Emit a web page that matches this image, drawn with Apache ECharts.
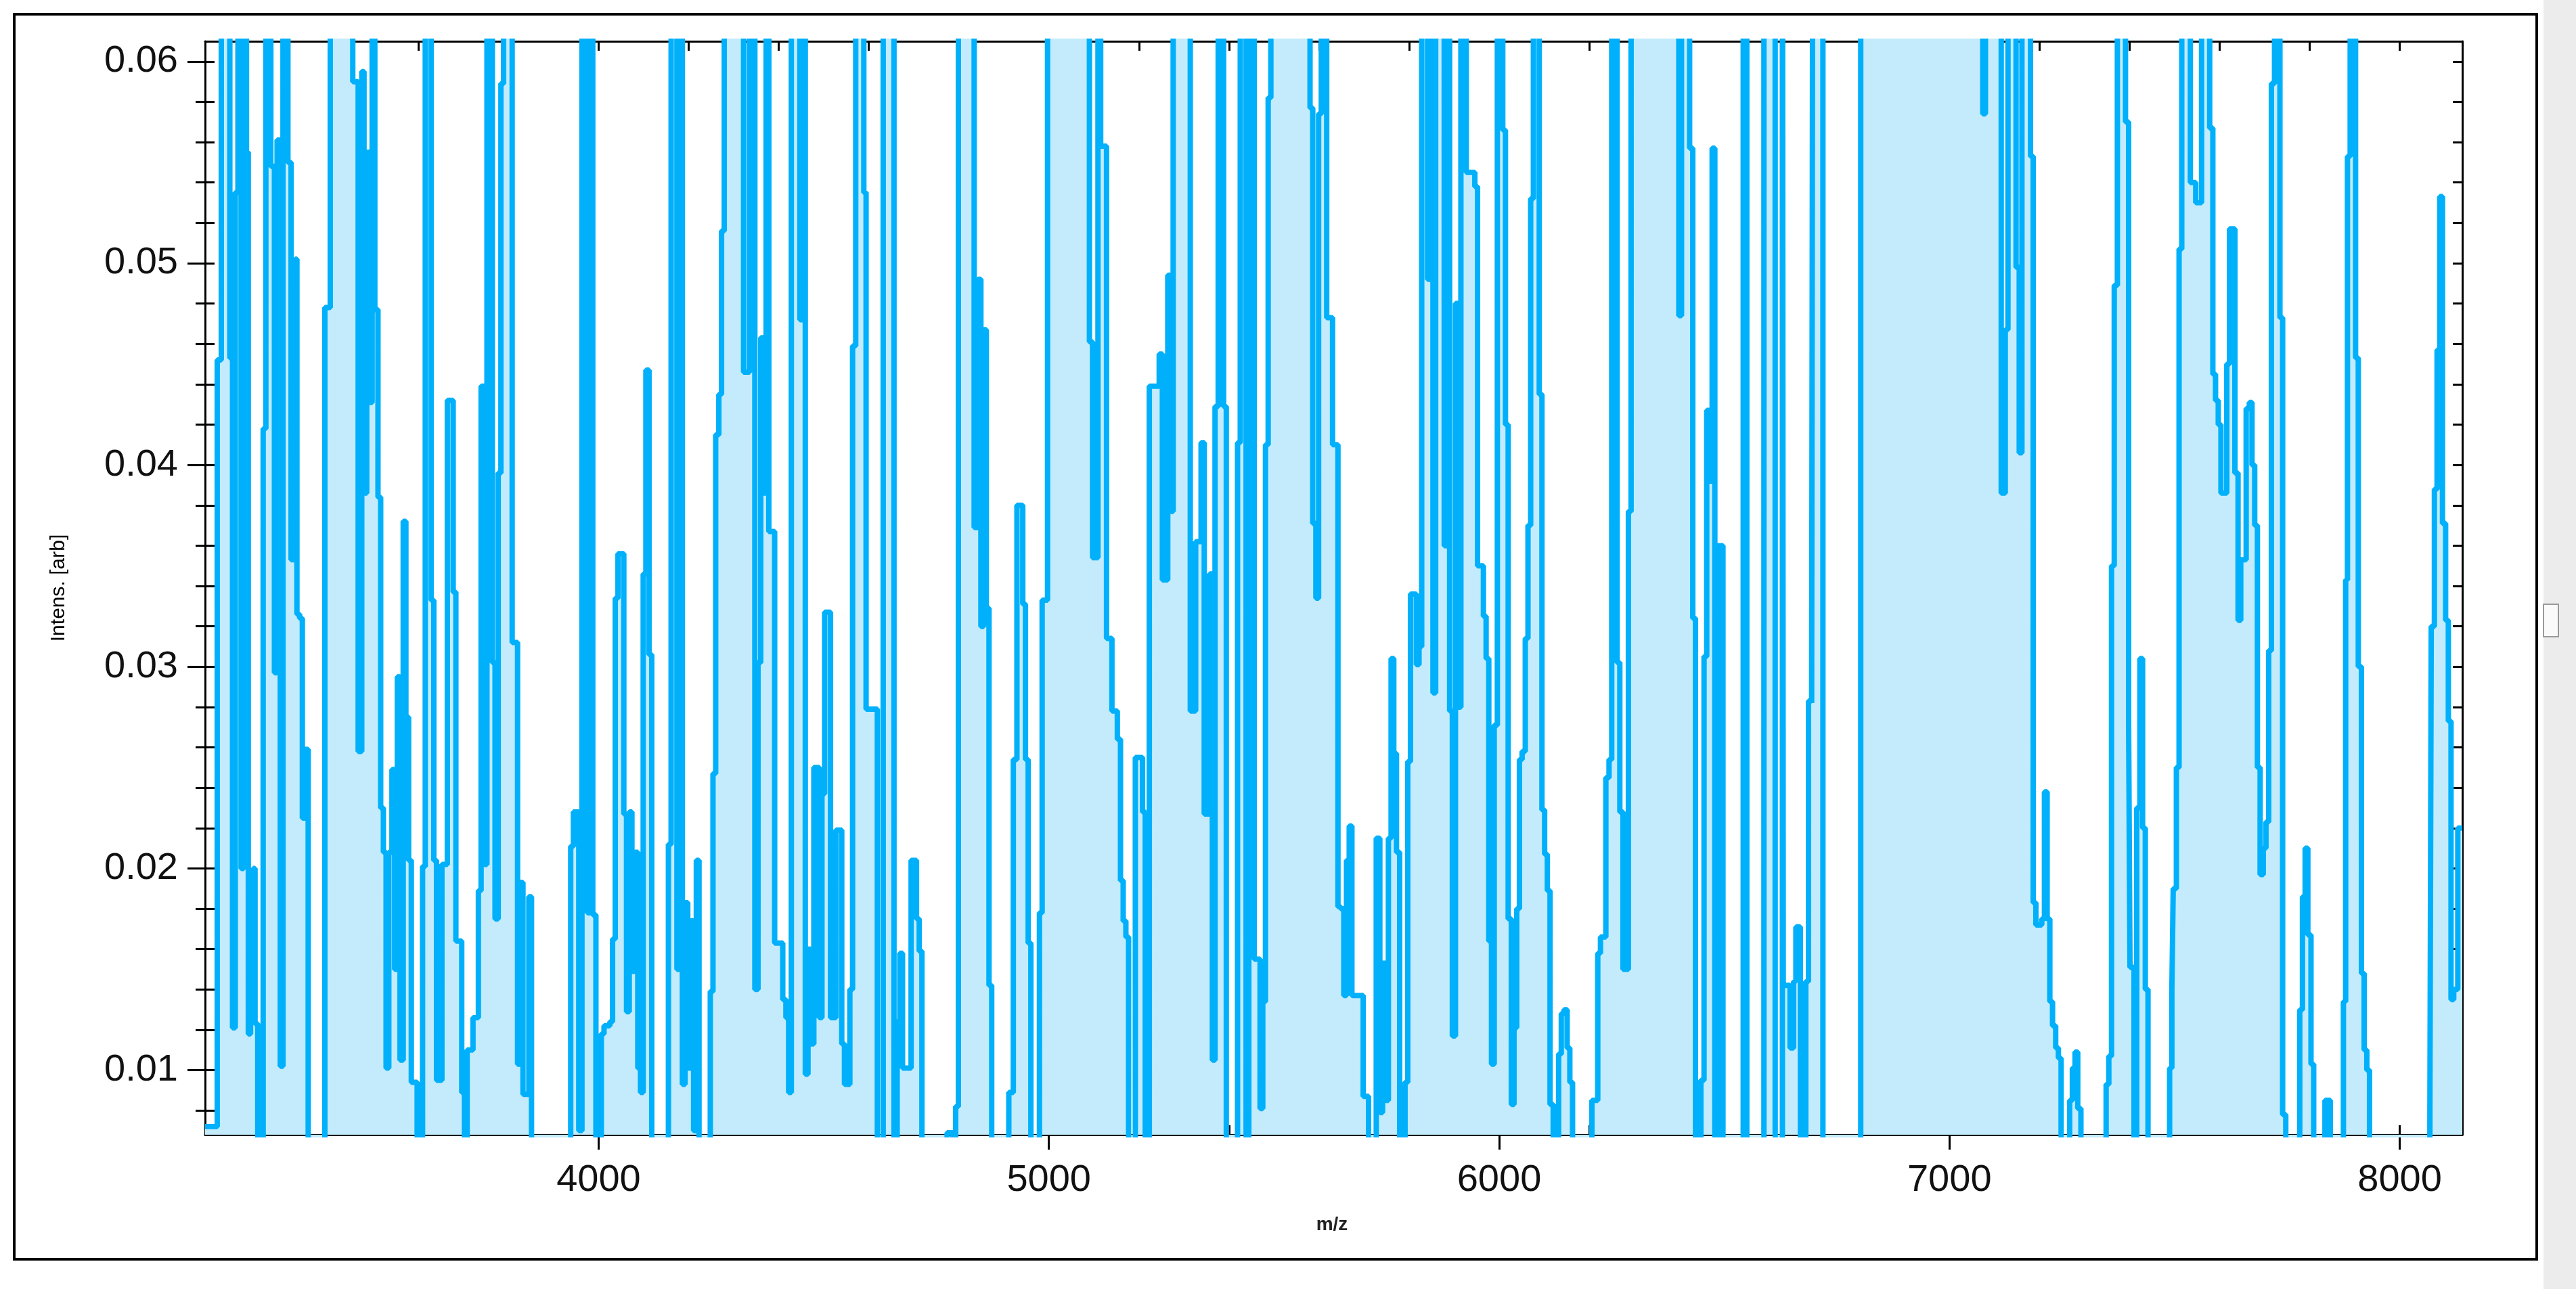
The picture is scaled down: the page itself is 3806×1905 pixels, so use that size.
<!DOCTYPE html>
<html>
<head>
<meta charset="utf-8">
<script src="https://cdn.jsdelivr.net/npm/echarts@6/dist/echarts.min.js"></script>
<style>
html, body { margin: 0; padding: 0; background: #fff; }
#chart { width: 3806px; height: 1905px; }
</style>
</head>
<body>
<div id="chart"></div>
<script>
// m/z positions where the stepped trace changes level, with the level it steps to
var mz = [
3126,3153,3162,3181,3187,3193,3199,3206,3212,3218,3222,3227,3233,3237,3243,3255,3261,3272,3280,3286,
3293,3299,3310,3317,3326,3330,3336,3342,3348,3355,3392,3404,3454,3466,3474,3479,3485,3491,3497,3503,
3510,3516,3522,3528,3534,3541,3547,3553,3559,3566,3572,3578,3584,3597,3609,3615,3628,3634,3640,3652,
3664,3677,3683,3696,3702,3708,3721,3733,3739,3746,3752,3764,3770,3777,3783,3789,3808,3820,3826,3832,
3845,3851,3938,3944,3956,3963,3975,3981,3987,3994,4006,4012,4025,4031,4037,4043,4056,4062,4068,4074,
4081,4087,4093,4099,4105,4112,4118,4155,4161,4174,4180,4186,4192,4198,4205,4211,4217,4223,4248,4254,
4260,4267,4273,4279,4322,4335,4347,4354,4360,4366,4372,4378,4391,4409,4416,4422,4428,4447,4453,4459,
4465,4471,4478,4490,4496,4502,4515,4527,4540,4546,4558,4564,4571,4589,4594,4619,4632,4656,4663,4669,
4675,4687,4694,4706,4712,4718,4774,4787,4793,4799,4834,4842,4849,4855,4861,4867,4873,4911,4921,4929,
4942,4948,4954,4960,4979,4985,4997,5090,5097,5109,5115,5128,5140,5152,5159,5165,5171,5177,5192,5208,
5214,5223,5245,5252,5264,5270,5276,5314,5326,5338,5345,5357,5363,5369,5376,5388,5394,5419,5425,5438,
5444,5456,5469,5475,5481,5487,5493,5580,5586,5593,5599,5605,5617,5630,5642,5648,5655,5661,5667,5673,
5686,5698,5710,5727,5735,5741,5748,5754,5760,5766,5772,5779,5791,5797,5803,5816,5822,5828,5841,5847,
5853,5859,5878,5884,5890,5896,5903,5909,5915,5927,5940,5946,5952,5965,5971,5977,5983,5989,5996,6008,
6014,6020,6027,6033,6039,6045,6051,6058,6064,6070,6076,6089,6095,6101,6107,6113,6120,6132,6138,6144,
6151,6157,6163,6206,6219,6225,6237,6244,6250,6262,6268,6275,6287,6293,6399,6405,6423,6430,6436,6448,
6455,6461,6467,6473,6479,6485,6497,6542,6550,6588,6613,6629,6631,6641,6646,6654,6659,6669,6681,6687,
6694,6697,6719,6803,7074,7080,7115,7124,7130,7148,7155,7161,7180,7186,7192,7205,7211,7217,7223,7229,
7236,7242,7248,7267,7273,7279,7285,7292,7348,7354,7360,7366,7373,7391,7398,7401,7410,7416,7423,7429,
7435,7441,7489,7494,7497,7504,7510,7516,7535,7547,7560,7578,7585,7591,7597,7603,7616,7622,7634,7641,
7647,7659,7666,7672,7678,7684,7690,7697,7703,7709,7715,7722,7734,7740,7747,7778,7784,7790,7796,7803,
7809,7834,7846,7875,7880,7884,7890,7902,7908,7915,7921,7927,7933,8067,8070,8077,8083,8089,8095,8102,
8108,8114,8120,8129,8139
];
var intens = [
0.0072,0.0452,0.08,0.0453,0.0121,0.0535,0.08,0.0200,0.08,0.0555,0.0118,0.0150,0.0200,0.0123,0.006,0.0418,0.08,0.0548,0.0297,0.0561,
0.0102,0.08,0.0550,0.0353,0.0502,0.0326,0.0324,0.0225,0.0259,0.006,0.0478,0.08,0.0590,0.0258,0.0595,0.0386,0.0555,0.0431,0.08,0.0477,
0.0384,0.0230,0.0208,0.0101,0.0208,0.0249,0.0150,0.0295,0.0105,0.0372,0.0275,0.0204,0.0094,0.006,0.0201,0.08,0.0333,0.0204,0.0095,0.0202,
0.0432,0.0337,0.0164,0.0089,0.006,0.0110,0.0126,0.0189,0.0439,0.0202,0.08,0.0302,0.0175,0.0396,0.0589,0.08,0.0312,0.0103,0.0193,0.0088,
0.0186,0.006,0.0211,0.0228,0.0070,0.08,0.0178,0.08,0.0177,0.006,0.0118,0.0122,0.0124,0.0165,0.0334,0.0356,0.0227,0.0129,0.0228,0.0149,
0.0208,0.0101,0.0089,0.0346,0.0447,0.0306,0.006,0.0212,0.08,0.0150,0.08,0.0093,0.0183,0.0101,0.0174,0.0070,0.0204,0.006,0.0139,0.0247,
0.0415,0.0435,0.0516,0.08,0.0446,0.08,0.0140,0.0302,0.0463,0.0386,0.08,0.0367,0.0163,0.0135,0.0126,0.0089,0.08,0.0472,0.08,0.0098,
0.0160,0.0113,0.0250,0.0126,0.0237,0.0327,0.0126,0.0219,0.0113,0.0093,0.0140,0.0459,0.08,0.0535,0.0279,0.006,0.08,0.006,0.0124,0.0158,
0.0101,0.0101,0.0204,0.0175,0.0159,0.006,0.0069,0.006,0.0082,0.08,0.0369,0.0492,0.0320,0.0467,0.0329,0.0142,0.006,0.0089,0.0254,0.0380,
0.0331,0.0254,0.0163,0.006,0.0178,0.0333,0.08,0.0461,0.0354,0.08,0.0558,0.0314,0.0278,0.0264,0.0194,0.0174,0.0166,0.006,0.0255,0.0228,
0.006,0.0439,0.0455,0.0343,0.0494,0.0377,0.08,0.0278,0.0362,0.0411,0.0227,0.0346,0.0105,0.0429,0.08,0.0429,0.006,0.0411,0.08,0.006,
0.08,0.0155,0.0081,0.0134,0.0410,0.0582,0.08,0.0577,0.0371,0.0334,0.0574,0.08,0.0473,0.0410,0.0181,0.0180,0.0137,0.0204,0.0221,0.0137,
0.0137,0.0087,0.006,0.0215,0.0079,0.0153,0.0085,0.0215,0.0304,0.0257,0.0208,0.006,0.0094,0.0253,0.0336,0.0301,0.0310,0.08,0.0492,0.08,
0.0287,0.08,0.0360,0.08,0.0278,0.0117,0.0480,0.0280,0.08,0.0545,0.0545,0.0538,0.0350,0.0325,0.0304,0.0164,0.0103,0.0271,0.08,0.0566,
0.0420,0.0175,0.0083,0.0121,0.0180,0.0254,0.0258,0.0314,0.0370,0.0532,0.08,0.0435,0.0229,0.0207,0.0189,0.0083,0.006,0.0108,0.0128,0.0130,
0.0111,0.0094,0.006,0.0085,0.0158,0.0166,0.0245,0.0254,0.08,0.0302,0.0228,0.0150,0.0377,0.08,0.0474,0.08,0.0557,0.0324,0.006,0.0095,
0.0305,0.0427,0.0392,0.0557,0.006,0.0360,0.006,0.08,0.006,0.08,0.006,0.08,0.0142,0.0142,0.0111,0.0144,0.0171,0.006,0.0144,0.0283,
0.0282,0.08,0.006,0.08,0.0574,0.08,0.0386,0.0467,0.08,0.0498,0.0406,0.08,0.0553,0.0183,0.0172,0.0175,0.0238,0.0175,0.0134,0.0122,
0.0111,0.0106,0.006,0.0085,0.0101,0.0109,0.0081,0.006,0.0093,0.0107,0.0350,0.0489,0.08,0.0570,0.0270,0.0151,0.006,0.0230,0.0304,0.0220,
0.0140,0.006,0.0101,0.0140,0.0190,0.0250,0.0507,0.08,0.0540,0.0530,0.08,0.0567,0.0445,0.0432,0.0420,0.0386,0.0450,0.0517,0.0396,0.0323,
0.0353,0.0428,0.0431,0.0400,0.0370,0.0250,0.0197,0.0210,0.0223,0.0308,0.0589,0.08,0.0473,0.0078,0.006,0.0130,0.0186,0.0210,0.0167,0.0103,
0.006,0.0085,0.006,0.0134,0.0343,0.0553,0.08,0.0453,0.0300,0.0148,0.0110,0.0100,0.006,0.0077,0.0320,0.0388,0.0457,0.0533,0.0371,0.0323,
0.0273,0.0135,0.0140,0.0220,0.0220
];
var xLabels = [4000, 5000, 6000, 7000, 8000];
var xMinor = [3200,3400,3600,3800,4000,4200,4400,4600,4800,5000,5200,5400,5600,5800,6000,6200,6400,6600,6800,7000,7200,7400,7600,7800,8000];
var yLabels = [0.01, 0.02, 0.03, 0.04, 0.05, 0.06];
var yMinor = [0.008,0.010,0.012,0.014,0.016,0.018,0.020,0.022,0.024,0.026,0.028,0.030,0.032,0.034,0.036,0.038,0.040,0.042,0.044,0.046,0.048,0.050,0.052,0.054,0.056,0.058,0.060];

var X_MIN = 3126, X_MAX = 8139, Y_MIN = 0.0068, Y_MAX = 0.061;
var points = mz.map(function (m, i) { return [m, intens[i]]; });

var labelFont = {fontFamily: 'Liberation Sans', fontSize: 56, color: '#111'};
var line = {show: true, lineStyle: {color: '#000', width: 3}};

function xAx(pos, ticks, len, inside, labels, showLine) {
    return {
        type: 'value', position: pos, min: X_MIN, max: X_MAX,
        axisLine: showLine ? line : {show: false},
        splitLine: {show: false},
        axisTick: {show: true, customValues: ticks, length: len, inside: inside, lineStyle: {color: '#000', width: 3}},
        axisLabel: labels ? Object.assign({show: true, customValues: labels, margin: 40,
            formatter: function (v) { return String(v); }}, labelFont) : {show: false}
    };
}
function yAx(pos, ticks, len, inside, labels, showLine) {
    return {
        type: 'value', position: pos, min: Y_MIN, max: Y_MAX,
        axisLine: showLine ? line : {show: false},
        splitLine: {show: false},
        axisTick: {show: true, customValues: ticks, length: len, inside: inside, lineStyle: {color: '#000', width: 3}},
        axisLabel: labels ? Object.assign({show: true, customValues: labels, margin: 40,
            formatter: function (v) { return v.toFixed(2); }}, labelFont) : {show: false}
    };
}

var myChart = echarts.init(document.getElementById('chart'));
myChart.setOption({
    animation: false,
    backgroundColor: '#fff',
    grid: {left: 303, right: 168, top: 61, bottom: 228},
    xAxis: [
        xAx('bottom', xLabels, 22, false, xLabels, true),
        xAx('bottom', xMinor, 14, true, null, false),
        xAx('top', xMinor, 14, true, null, true)
    ],
    yAxis: [
        yAx('left', yLabels, 26, false, yLabels, true),
        yAx('left', yMinor, 14, true, null, false),
        yAx('left', yMinor, 14, false, null, false),
        yAx('right', yMinor, 14, true, null, true)
    ],
    series: [{
        type: 'line',
        step: 'end',
        data: points,
        symbol: 'none',
        clip: true,
        lineStyle: {color: '#00b0fb', width: 8},
        areaStyle: {color: '#c3ebfc', origin: 'start', opacity: 1}
    }],
    graphic: [
        {type: 'rect', shape: {x: 21, y: 21, width: 3727, height: 1840}, style: {fill: 'none', stroke: '#000', lineWidth: 4}, z: 10},
        {type: 'rect', shape: {x: 3758, y: 0, width: 48, height: 1905}, style: {fill: '#ececec'}, z: 10},
        {type: 'rect', shape: {x: 3758, y: 893, width: 22, height: 48}, style: {fill: '#fafafa', stroke: '#999', lineWidth: 2}, z: 11},
        {type: 'text', x: 87, y: 869, rotation: Math.PI / 2,
            style: {text: 'Intens. [arb]', font: '30px "Liberation Sans"', fill: '#000', align: 'center', verticalAlign: 'middle'}, z: 10},
        {type: 'text', x: 1968, y: 1810,
            style: {text: 'm/z', font: 'bold 28px "Liberation Sans"', fill: '#222', align: 'center', verticalAlign: 'middle'}, z: 10}
    ]
});
</script>
</body>
</html>
